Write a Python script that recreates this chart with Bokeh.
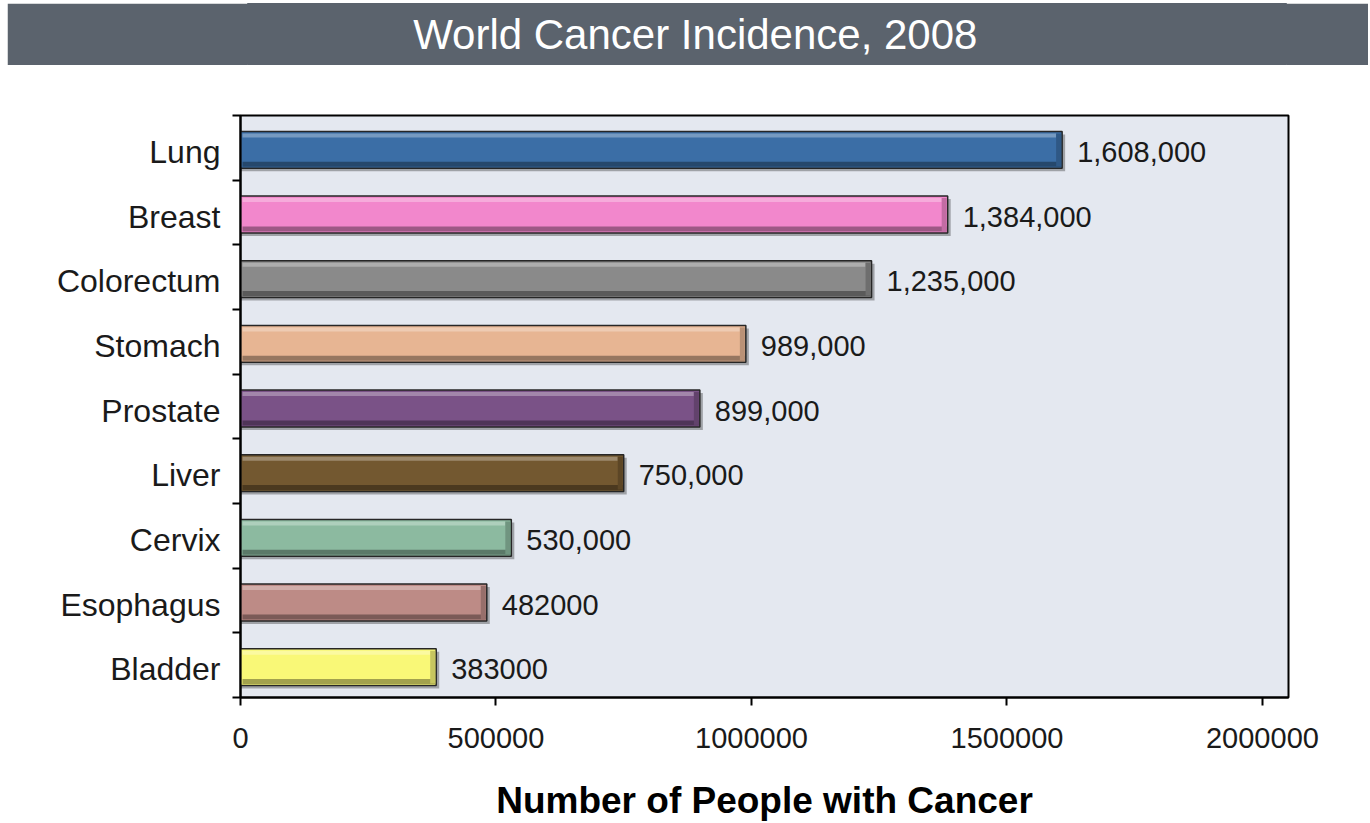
from bokeh.plotting import figure
from bokeh.layouts import column
from bokeh.models import Range1d, FixedTicker, ColumnDataSource
from bokeh.core.properties import value
from bokeh.embed import file_html
from bokeh.resources import INLINE

# ---- data -------------------------------------------------------------
cancers = ["Lung", "Breast", "Colorectum", "Stomach", "Prostate",
           "Liver", "Cervix", "Esophagus", "Bladder"]
cases = [1608000, 1384000, 1235000, 989000, 899000,
         750000, 530000, 482000, 383000]
case_labels = ["1,608,000", "1,384,000", "1,235,000", "989,000", "899,000",
               "750,000", "530,000", "482000", "383000"]
bar_colors = ["#3b6ea6", "#f287cc", "#8a8a8a", "#e7b593", "#7a5287",
              "#735830", "#8cbaa0", "#bd8b86", "#f9f877"]
x_ticks = [0, 500000, 1000000, 1500000, 2000000]

FONT = "Liberation Sans"
W = 1370
BANNER = "#5b636d"

# ---- title banner -----------------------------------------------------
head = figure(width=W - 9, height=62, x_range=(0, 1), y_range=(0, 1),
              x_axis_type=None, y_axis_type=None, toolbar_location=None,
              output_backend="svg", margin=(3, 2, 5, 7),
              min_border_left=0, min_border_right=0,
              min_border_top=0, min_border_bottom=0)
head.background_fill_color = BANNER
head.border_fill_color = BANNER
head.outline_line_color = BANNER
head.outline_line_width = 1
head.grid.visible = False
head.text(x=[0.431], y=[0.5], text=["World Cancer Incidence, 2008"],
          text_font=value(FONT), text_font_size="42px", text_color="white",
          text_align="center", text_baseline="middle")

# ---- main chart -------------------------------------------------------
n = len(cancers)
XMAX = 2051000
FRAME_W = 1048
FRAME_H = 582
YMAX = 2 * n
ux = XMAX / FRAME_W          # data units per pixel (x)
uy = YMAX / FRAME_H          # data units per pixel (y)
centers = [YMAX - 2 * i - 1 for i in range(n)]
label_pos = [c - 4 * uy for c in centers]
bounds = list(range(0, YMAX + 1, 2))
H = 1.14                     # bar thickness in y units
bar_y = [c - 2 * uy for c in centers]


def mix(c, target, t):
    c = c.lstrip("#")
    rgb = [int(c[k:k + 2], 16) for k in (0, 2, 4)]
    out = [round(a + (target - a) * t) for a in rgb]
    return "#%02x%02x%02x" % tuple(out)


light = [mix(c, 255, 0.3) for c in bar_colors]
dark = [mix(c, 0, 0.35) for c in bar_colors]
edge = [mix(c, 0, 0.2) for c in bar_colors]

src = ColumnDataSource(dict(
    y=bar_y, v=cases, color=bar_colors, light=light, dark=dark, edge=edge,
    lab=case_labels,
    shadow_y=[c - 3 * uy for c in bar_y],
    shadow_r=[v + 3 * ux for v in cases],
    top_y=[c + H / 2 - 4 * uy for c in bar_y],
    bot_y=[c - H / 2 + 4 * uy for c in bar_y],
    strip_l=[2 * ux] * n,
    strip_r=[v - 6 * ux for v in cases],
    end_l=[v - 6 * ux for v in cases],
    end_r=[v - 1 * ux for v in cases],
    lab_x=[v + 15 * ux for v in cases],
    lab_y=[c - 2 * uy for c in bar_y],
))

p = figure(width=W, height=823 - 70, x_range=Range1d(0, XMAX),
           y_range=Range1d(0, YMAX), toolbar_location=None,
           output_backend="svg", min_border_left=240, min_border_right=82,
           min_border_top=115 - 70, min_border_bottom=126)
p.background_fill_color = "#e4e8f0"
p.border_fill_color = "white"
p.outline_line_color = "black"
p.outline_line_width = 2
p.grid.visible = False

# drop shadow
p.hbar(y="shadow_y", left=0, right="shadow_r", height=H, source=src,
       fill_color="black", fill_alpha=0.3, line_color=None)
# bar body
p.hbar(y="y", left=0, right="v", height=H, source=src,
       fill_color="color", line_color="#262626", line_width=1.5)
# bevel highlights
p.hbar(y="top_y", left="strip_l", right="strip_r", height=4 * uy, source=src,
       fill_color="light", line_color=None)
p.hbar(y="bot_y", left="strip_l", right="end_r", height=5 * uy, source=src,
       fill_color="dark", line_color=None)
p.hbar(y="y", left="end_l", right="end_r", height=H - 4 * uy, source=src,
       fill_color="edge", line_color=None)

# value labels
p.text(x="lab_x", y="lab_y", text="lab", source=src, text_font=value(FONT),
       text_font_size="29px", text_color="#1a1a1a", text_align="left",
       text_baseline="middle")

# x axis
xa = p.xaxis[0]
xa.ticker = FixedTicker(ticks=x_ticks, minor_ticks=[])
xa.major_label_overrides = {t: str(t) for t in x_ticks}
xa.axis_line_color = "black"
xa.axis_line_width = 2
xa.major_tick_line_color = "black"
xa.major_tick_line_width = 2
xa.major_tick_out = 8
xa.major_tick_in = 0
xa.minor_tick_line_color = None
xa.major_label_text_font = FONT
xa.major_label_text_font_size = "29px"
xa.major_label_text_color = "#1a1a1a"
xa.major_label_standoff = 22
xa.axis_label = "Number of People with Cancer"
xa.axis_label_text_font = FONT
xa.axis_label_text_font_size = "37px"
xa.axis_label_text_font_style = "bold"
xa.axis_label_text_color = "black"
xa.axis_label_standoff = 29

# y axis: names at band centres, tick marks at band boundaries
ya = p.yaxis[0]
ya.ticker = FixedTicker(ticks=label_pos, minor_ticks=bounds)
ya.major_label_overrides = {c: name for c, name in zip(label_pos, cancers)}
ya.axis_line_color = "black"
ya.axis_line_width = 2
ya.major_tick_line_color = None
ya.major_tick_out = 8
ya.major_tick_in = 0
ya.minor_tick_line_color = "black"
ya.minor_tick_line_width = 2
ya.minor_tick_out = 8
ya.minor_tick_in = 0
ya.major_label_text_font = FONT
ya.major_label_text_font_size = "32px"
ya.major_label_text_color = "#1a1a1a"
ya.major_label_standoff = 12

layout = column(head, p, spacing=0)
open("out.html", "w").write(file_html(layout, INLINE))
